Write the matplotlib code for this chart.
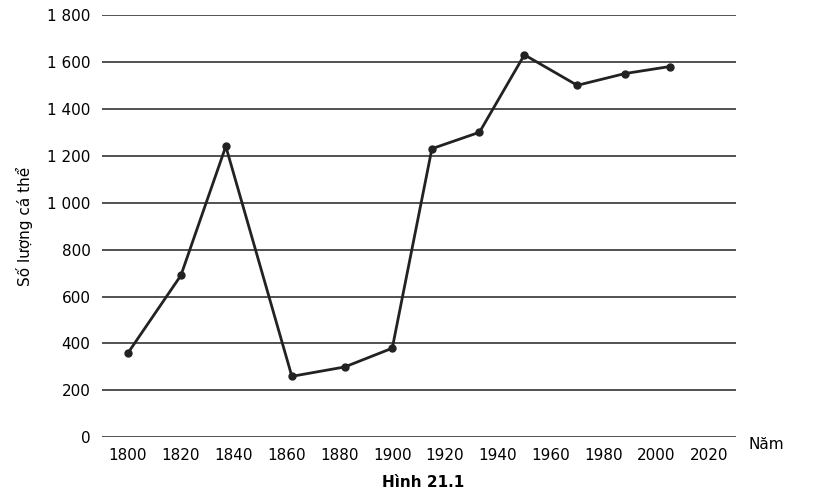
import matplotlib.pyplot as plt

# values
years = [1800, 1820, 1837, 1862, 1882, 1900, 1915, 1933, 1950, 1970, 1988, 2005]
counts = [360, 690, 1240, 260, 300, 380, 1230, 1300, 1630, 1500, 1550, 1580]
xticks = list(range(1800, 2021, 20))
yticks = list(range(0, 1801, 200))
ylabels = ["0", "200", "400", "600", "800", "1 000", "1 200", "1 400", "1 600", "1 800"]

fig = plt.figure(figsize=(8.13, 4.97), dpi=100)
ax = fig.add_axes([0.125, 0.12, 0.78, 0.85])

for y in yticks:
    ax.axhline(y, color="#333333", lw=1.2, zorder=1)
ax.plot(years, counts, color="#222222", lw=2, marker="o", ms=5, zorder=3)

ax.set_xlim(1790, 2030)
ax.set_ylim(0, 1800)
ax.set_xticks(xticks)
ax.set_yticks(yticks)
ax.set_yticklabels(ylabels)
ax.tick_params(length=0, labelsize=11, pad=8)
for s in ax.spines.values():
    s.set_visible(False)
ax.set_ylabel("Số lượng cá thể", fontsize=11, labelpad=10)
ax.text(2035, 0, "Năm", fontsize=11, va="top", ha="left")
fig.text(0.52, 0.02, "Hình 21.1", fontsize=11, fontweight="bold", ha="center")

fig.savefig("out.png", dpi=100)
